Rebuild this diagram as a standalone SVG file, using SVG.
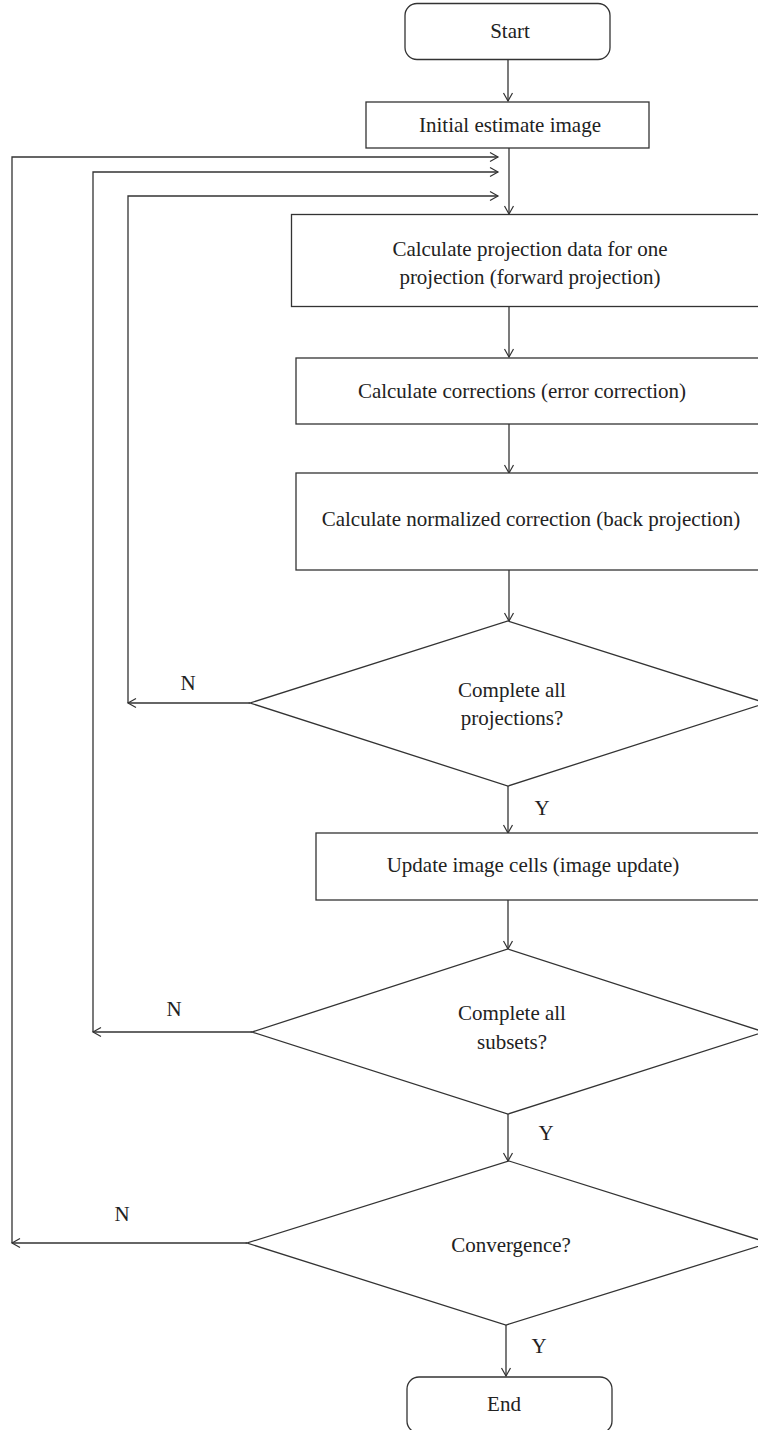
<svg xmlns="http://www.w3.org/2000/svg" width="758" height="1430" viewBox="0 0 758 1430">
<style>
.shape{fill:#fff;stroke:#333;stroke-width:1.3}
.line{fill:none;stroke:#333;stroke-width:1.3}
text{font-family:"Liberation Serif","Times New Roman",serif;font-size:21px;fill:#222;text-anchor:middle}
</style>
<defs>
<marker id="arr" viewBox="-10 -6 12 12" refX="0" refY="0" markerWidth="12" markerHeight="12" markerUnits="userSpaceOnUse" orient="auto">
<path d="M-8,-4.5 L0,0 L-8,4.5" fill="none" stroke="#333" stroke-width="1.2"/>
</marker>
</defs>
<rect width="758" height="1430" fill="#fff"/>
<g id="connectors">
<line class="line" x1="508" y1="60" x2="508" y2="101" marker-end="url(#arr)"/>
<line class="line" x1="509" y1="148" x2="509" y2="214" marker-end="url(#arr)"/>
<polyline class="line" points="12,1243 12,157 498,157" marker-end="url(#arr)"/>
<polyline class="line" points="93,1032 93,172 498,172" marker-end="url(#arr)"/>
<polyline class="line" points="128,703 128,196 498,196" marker-end="url(#arr)"/>
<line class="line" x1="509" y1="307" x2="509" y2="357" marker-end="url(#arr)"/>
<line class="line" x1="509" y1="424" x2="509" y2="473" marker-end="url(#arr)"/>
<line class="line" x1="509" y1="570" x2="509" y2="621" marker-end="url(#arr)"/>
<line class="line" x1="250" y1="703" x2="128" y2="703" marker-end="url(#arr)"/>
<line class="line" x1="508" y1="786" x2="508" y2="833" marker-end="url(#arr)"/>
<line class="line" x1="508" y1="900" x2="508" y2="949" marker-end="url(#arr)"/>
<line class="line" x1="252" y1="1032" x2="93" y2="1032" marker-end="url(#arr)"/>
<line class="line" x1="508" y1="1114" x2="508" y2="1161" marker-end="url(#arr)"/>
<line class="line" x1="247" y1="1243" x2="12" y2="1243" marker-end="url(#arr)"/>
<line class="line" x1="506" y1="1325" x2="506" y2="1376" marker-end="url(#arr)"/>
<text x="188" y="690">N</text>
<text x="542" y="815">Y</text>
<text x="174" y="1016">N</text>
<text x="546" y="1140">Y</text>
<text x="122" y="1221">N</text>
<text x="539" y="1353">Y</text>
</g>
<g id="start">
<rect class="shape" x="405" y="3.5" width="205" height="56" rx="12"/>
<text x="510" y="38">Start</text>
</g>
<g id="initial">
<rect class="shape" x="366" y="102" width="283" height="46"/>
<text x="510" y="132">Initial estimate image</text>
</g>
<g id="forward">
<rect class="shape" x="291.5" y="214.5" width="490" height="92"/>
<text x="530" y="256">Calculate projection data for one</text>
<text x="530" y="284">projection (forward projection)</text>
</g>
<g id="error">
<rect class="shape" x="296" y="358" width="490" height="66"/>
<text x="522" y="398">Calculate corrections (error correction)</text>
</g>
<g id="back">
<rect class="shape" x="296" y="473" width="490" height="97"/>
<text x="531" y="526">Calculate normalized correction (back projection)</text>
</g>
<g id="dec-projections">
<polygon class="shape" points="508,621 766,703 508,786 250,703"/>
<text x="512" y="697">Complete all</text>
<text x="512" y="725">projections?</text>
</g>
<g id="update">
<rect class="shape" x="316" y="833" width="490" height="67"/>
<text x="533" y="872">Update image cells (image update)</text>
</g>
<g id="dec-subsets">
<polygon class="shape" points="508,949 764,1032 508,1114 252,1032"/>
<text x="512" y="1020">Complete all</text>
<text x="512" y="1049">subsets?</text>
</g>
<g id="dec-convergence">
<polygon class="shape" points="509,1161 769,1243 506,1325 247,1243"/>
<text x="511" y="1252">Convergence?</text>
</g>
<g id="end">
<rect class="shape" x="407" y="1377" width="205" height="56" rx="12"/>
<text x="504" y="1411">End</text>
</g>
</svg>
